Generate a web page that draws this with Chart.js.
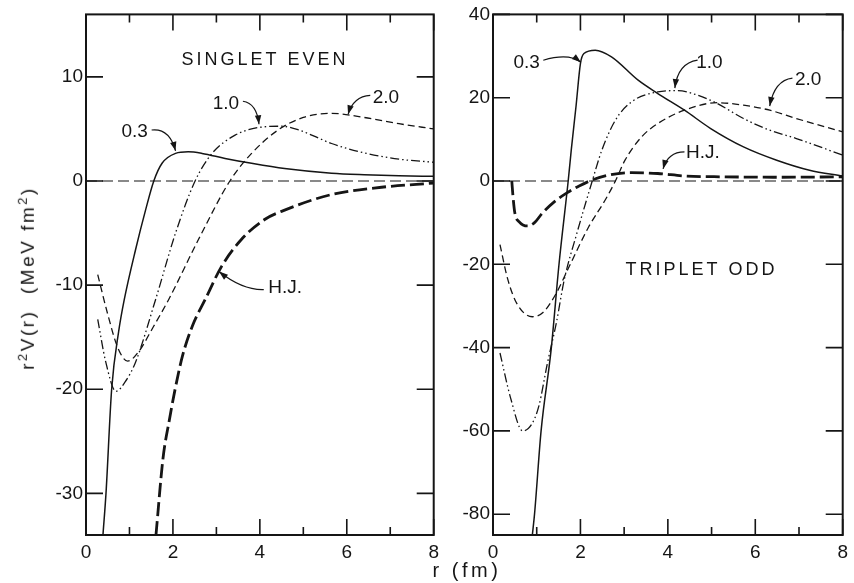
<!DOCTYPE html>
<html>
<head>
<meta charset="utf-8">
<script src="https://cdn.jsdelivr.net/npm/chart.js@4"></script>
<style>
  body { margin: 0; background: #fff; }
  #wrap { position: relative; width: 854px; height: 583px; background: #fff; font-family: "Liberation Sans", sans-serif; color: #151515; }
  .pane { position: absolute; top: 0; }
  #ytitle { position: absolute; left: 27px; top: 278px; transform: translate(-50%, -50%) rotate(-90deg); white-space: pre; font-size: 19px; letter-spacing: 2.5px; }
  #ytitle sup { font-size: 13px; }
  #xtitle { position: absolute; left: 467px; top: 570px; transform: translate(-50%, -50%); white-space: pre; font-size: 20px; letter-spacing: 3.5px; }
</style>
</head>
<body>
<div id="wrap">
  <div class="pane" style="left:0"><canvas id="left" width="445" height="583"></canvas></div>
  <div class="pane" style="left:445px"><canvas id="right" width="409" height="583"></canvas></div>
  <div id="ytitle">r<sup>2</sup>V(r)  (MeV fm<sup>2</sup>)</div>
  <div id="xtitle">r (fm)</div>
</div>
<script>
const INK = '#151515';

// axes
const xMajor = [0, 2, 4, 6, 8];
const xMinor = [1, 3, 5, 7];
const seYTicks = [-30, -20, -10, 0, 10];
const toYTicks = [-80, -60, -40, -20, 0, 20, 40];

// singlet even
const se03X = [0.39, 0.46, 0.59, 0.75, 0.88, 1.14, 1.37, 1.56, 1.75, 2.06, 2.35, 2.67, 3.2, 3.81, 4.57, 5.65, 6.4, 7.2, 8.0];
const se03Y = [-34, -30, -20, -14.5, -11.4, -6.6, -2.8, 0, 1.7, 2.65, 2.8, 2.65, 2.17, 1.7, 1.2, 0.75, 0.6, 0.5, 0.45];
const se10X = [0.27, 0.45, 0.69, 0.9, 1.14, 1.6, 2.06, 2.51, 2.9, 3.43, 3.96, 4.5, 4.9, 5.25, 5.65, 6.4, 7.2, 8.0];
const se10Y = [-13.3, -17.3, -20.2, -19.3, -17.4, -11.4, -5.0, 0, 2.65, 4.4, 5.13, 5.26, 4.9, 4.3, 3.6, 2.7, 2.1, 1.8];
const se20X = [0.27, 0.5, 0.73, 0.96, 1.21, 1.55, 1.9, 2.59, 3.31, 3.81, 4.42, 5.0, 5.65, 6.4, 7.2, 8.0];
const se20Y = [-9.0, -12.8, -16.0, -17.3, -16.4, -14.0, -11.4, -5.6, 0, 2.65, 4.9, 6.1, 6.5, 6.1, 5.5, 5.0];
const seHJX = [1.61, 1.77, 1.92, 2.05, 2.22, 2.45, 2.74, 3.12, 3.58, 4.11, 4.57, 5.65, 6.8, 8.0];
const seHJY = [-34, -26.7, -22.9, -20, -16.8, -13.9, -11.4, -8.2, -5.6, -3.7, -2.8, -1.3, -0.6, -0.2];

// triplet odd
const to03X = [0.9, 0.95, 1.1, 1.33, 1.51, 1.72, 1.79, 1.9, 2.0, 2.08, 2.34, 2.71, 3.32, 3.77, 4.38, 4.98, 5.73, 6.49, 7.24, 8.0];
const to03Y = [-85, -80, -60, -40.5, -20, 0, 7.4, 18, 28.2, 30.6, 31.4, 29.8, 24.2, 21, 17, 12.6, 8.2, 5.0, 2.6, 1.2];
const to10X = [0.16, 0.4, 0.68, 0.88, 1.05, 1.24, 1.45, 1.63, 1.92, 2.27, 2.49, 2.8, 3.17, 3.77, 4.23, 4.68, 5.13, 5.73, 6.33, 6.94, 8.0];
const to10Y = [-41.3, -52, -60, -58.5, -54, -44, -34, -23.7, -12.5, 0, 7.4, 14.6, 19, 21.4, 21.7, 20.6, 18.6, 15.0, 12.2, 10.2, 6.2];
const to20X = [0.16, 0.34, 0.55, 0.9, 1.15, 1.45, 1.74, 2.19, 2.57, 2.8, 3.02, 3.4, 3.77, 4.38, 5.13, 5.73, 6.33, 6.94, 8.0];
const to20Y = [-15.3, -23.7, -29.5, -32.6, -31.5, -26.9, -20.6, -11, -4.5, 0, 5.0, 10.6, 13.8, 17, 18.8, 18.2, 17, 15, 11.8];
const toHJX = [0.43, 0.46, 0.5, 0.6, 0.79, 0.95, 1.13, 1.4, 1.7, 1.97, 2.26, 2.64, 3.17, 3.77, 4.38, 5.28, 6.5, 8.0];
const toHJY = [0, -4, -7.7, -9.8, -10.8, -10, -7.7, -5, -2.8, -1.2, 0.2, 1.4, 2.0, 1.8, 1.2, 1.0, 0.9, 1.0];

const zeroX = [0, 8];
const zeroY = [0, 0];

// labels with curved arrows: text at (tx,ty), arrow start -> ctrl -> tip (data units)
const seNotes = [
  { text: '0.3', tx: 1.12, ty: 4.7, p: [1.51, 4.9, 1.92, 5.1, 2.06, 2.9] },
  { text: '1.0', tx: 3.22, ty: 7.46, p: [3.61, 7.66, 3.93, 7.46, 3.98, 5.45] },
  { text: '2.0', tx: 6.9, ty: 8.04, p: [6.54, 8.23, 6.15, 8.13, 6.03, 6.4] },
  { text: 'H.J.', tx: 4.58, ty: -10.24, p: [4.09, -10.43, 3.6, -10.5, 3.06, -8.7] }
];
const toNotes = [
  { text: '0.3', tx: 0.77, ty: 28.5, p: [1.15, 29.0, 1.74, 30.8, 2.01, 28.5] },
  { text: '1.0', tx: 4.95, ty: 28.5, p: [4.68, 29.0, 4.23, 28.3, 4.16, 22.3] },
  { text: '2.0', tx: 7.21, ty: 24.2, p: [6.85, 24.7, 6.44, 24.2, 6.33, 18.0] },
  { text: 'H.J.', tx: 4.8, ty: 6.7, p: [4.38, 7.0, 4.0, 7.0, 3.89, 2.9] }
];

function pts(xs, ys) {
  return xs.map((x, i) => ({ x: x, y: ys[i] }));
}

function series(xs, ys, dash, width) {
  return {
    data: pts(xs, ys),
    showLine: true,
    borderColor: INK,
    borderWidth: width,
    borderDash: dash,
    pointRadius: 0,
    cubicInterpolationMode: 'monotone',
    fill: false
  };
}

// frame, inward ticks, title and arrow labels
const framePlugin = {
  id: 'frame',
  afterDatasetsDraw(chart, args, opts) {
    const { ctx, chartArea: a } = chart;
    const x = chart.scales.x, y = chart.scales.y;
    ctx.save();
    ctx.strokeStyle = INK;
    ctx.fillStyle = INK;
    ctx.lineWidth = 2;
    ctx.strokeRect(a.left, a.top, a.right - a.left, a.bottom - a.top);

    ctx.lineWidth = 1.6;
    ctx.beginPath();
    xMajor.concat(xMinor).forEach(v => {
      const px = x.getPixelForValue(v);
      const len = xMajor.includes(v) ? 16 : 8;
      ctx.moveTo(px, a.bottom); ctx.lineTo(px, a.bottom - len);
      ctx.moveTo(px, a.top); ctx.lineTo(px, a.top + len);
    });
    opts.yTicks.forEach(v => {
      const py = y.getPixelForValue(v);
      ctx.moveTo(a.left, py); ctx.lineTo(a.left + 17, py);
      ctx.moveTo(a.right, py); ctx.lineTo(a.right - 17, py);
    });
    ctx.stroke();

    ctx.font = '18px "Liberation Sans"';
    ctx.textAlign = 'center';
    ctx.textBaseline = 'middle';
    ctx.letterSpacing = '3px';
    ctx.fillText(opts.title.text, x.getPixelForValue(opts.title.x), y.getPixelForValue(opts.title.y));
    ctx.letterSpacing = '0px';

    ctx.font = '19px "Liberation Sans"';
    ctx.lineWidth = 1.2;
    opts.notes.forEach(n => {
      ctx.fillText(n.text, x.getPixelForValue(n.tx), y.getPixelForValue(n.ty));
      const sx = x.getPixelForValue(n.p[0]), sy = y.getPixelForValue(n.p[1]);
      const cx = x.getPixelForValue(n.p[2]), cy = y.getPixelForValue(n.p[3]);
      const ex = x.getPixelForValue(n.p[4]), ey = y.getPixelForValue(n.p[5]);
      ctx.beginPath();
      ctx.moveTo(sx, sy);
      ctx.quadraticCurveTo(cx, cy, ex, ey);
      ctx.stroke();
      const ang = Math.atan2(ey - cy, ex - cx);
      ctx.beginPath();
      ctx.moveTo(ex, ey);
      ctx.lineTo(ex - 9 * Math.cos(ang) + 3.2 * Math.sin(ang), ey - 9 * Math.sin(ang) - 3.2 * Math.cos(ang));
      ctx.lineTo(ex - 9 * Math.cos(ang) - 3.2 * Math.sin(ang), ey - 9 * Math.sin(ang) + 3.2 * Math.cos(ang));
      ctx.closePath();
      ctx.fill();
    });
    ctx.restore();
  }
};

function makeChart(id, sets, yMin, yMax, yTicks, yWidth, padRight, title, notes) {
  return new Chart(document.getElementById(id), {
    type: 'scatter',
    data: {
      datasets: [
        series(zeroX, zeroY, [11, 5], 1.2),
        series(sets[0][0], sets[0][1], [], 1.5),
        series(sets[1][0], sets[1][1], [9, 3, 1.5, 3, 1.5, 3], 1.3),
        series(sets[2][0], sets[2][1], [7, 4], 1.3),
        series(sets[3][0], sets[3][1], [14, 5], 2.8)
      ]
    },
    options: {
      responsive: false,
      animation: false,
      events: [],
      layout: { padding: { left: 0, right: padRight, top: 14, bottom: 0 } },
      plugins: {
        legend: { display: false },
        tooltip: { enabled: false },
        frame: { yTicks: yTicks, title: title, notes: notes }
      },
      scales: {
        x: {
          type: 'linear', min: 0, max: 8,
          grid: { display: false, drawTicks: false },
          border: { display: false },
          afterBuildTicks: s => { s.ticks = xMajor.map(v => ({ value: v })); },
          afterFit: s => { s.height = 48; },
          ticks: { color: INK, padding: 6, maxRotation: 0, font: { family: 'Liberation Sans', size: 19 } }
        },
        y: {
          type: 'linear', min: yMin, max: yMax,
          grid: { display: false, drawTicks: false },
          border: { display: false },
          afterBuildTicks: s => { s.ticks = yTicks.map(v => ({ value: v })); },
          afterFit: s => { s.width = yWidth; },
          ticks: { color: INK, padding: 3, font: { family: 'Liberation Sans', size: 19 } }
        }
      }
    },
    plugins: [framePlugin]
  });
}

makeChart('left',
  [[se03X, se03Y], [se10X, se10Y], [se20X, se20Y], [seHJX, seHJY]],
  -34, 16, seYTicks, 86, 9,
  { text: 'SINGLET EVEN', x: 4.12, y: 11.58 }, seNotes);

makeChart('right',
  [[to03X, to03Y], [to10X, to10Y], [to20X, to20Y], [toHJX, toHJY]],
  -85, 40, toYTicks, 48, 7,
  { text: 'TRIPLET ODD', x: 4.77, y: -21.3 }, toNotes);
</script>
</body>
</html>
